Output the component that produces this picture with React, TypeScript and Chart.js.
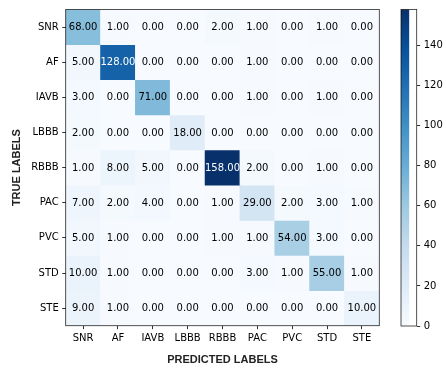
import React, { useEffect, useRef } from "react";
import { Chart, registerables } from "chart.js";

Chart.register(...registerables);

const predLabels = ["SNR", "AF", "IAVB", "LBBB", "RBBB", "PAC", "PVC", "STD", "STE"];
const trueLabels = ["SNR", "AF", "IAVB", "LBBB", "RBBB", "PAC", "PVC", "STD", "STE"];

const rowSNR = [68, 1, 0, 0, 2, 1, 0, 1, 0];
const rowAF = [5, 128, 0, 0, 0, 1, 0, 0, 0];
const rowIAVB = [3, 0, 71, 0, 0, 1, 0, 1, 0];
const rowLBBB = [2, 0, 0, 18, 0, 0, 0, 0, 0];
const rowRBBB = [1, 8, 5, 0, 158, 2, 0, 1, 0];
const rowPAC = [7, 2, 4, 0, 1, 29, 2, 3, 1];
const rowPVC = [5, 1, 0, 0, 1, 1, 54, 3, 0];
const rowSTD = [10, 1, 0, 0, 0, 3, 1, 55, 1];
const rowSTE = [9, 1, 0, 0, 0, 0, 0, 0, 10];

const matrix = [rowSNR, rowAF, rowIAVB, rowLBBB, rowRBBB, rowPAC, rowPVC, rowSTD, rowSTE];

const colorbarTicks = [0, 20, 40, 60, 80, 100, 120, 140];

const VMIN = 0;
const VMAX = Math.max(...matrix.map((r) => Math.max(...r)));

const BLUES = ["#f7fbff", "#deebf7", "#c6dbef", "#9ecae1", "#6baed6", "#4292c6", "#2171b5", "#08519c", "#08306b"];

function hexToRgb(h: string) {
  return [parseInt(h.slice(1, 3), 16), parseInt(h.slice(3, 5), 16), parseInt(h.slice(5, 7), 16)];
}

function blues(t: number) {
  const tt = Math.max(0, Math.min(1, t)) * (BLUES.length - 1);
  const i = Math.min(Math.floor(tt), BLUES.length - 2);
  const f = tt - i;
  const a = hexToRgb(BLUES[i]);
  const b = hexToRgb(BLUES[i + 1]);
  const c = a.map((v, k) => Math.round(v + (b[k] - v) * f));
  return `rgb(${c[0]},${c[1]},${c[2]})`;
}

const TICK_FONT = { family: "'DejaVu Sans'", size: 10 };
const TITLE_FONT = { family: "'Liberation Sans'", size: 11, weight: "bold" as const, lineHeight: 1 };

const frame = {
  id: "frame",
  afterDraw(chart: any) {
    const { ctx, chartArea: a } = chart;
    ctx.save();
    ctx.strokeStyle = "rgba(0,0,0,0.85)";
    ctx.lineWidth = 0.8;
    ctx.strokeRect(a.left, a.top, a.right - a.left, a.bottom - a.top);
    ctx.restore();
  },
};

const cellText = {
  id: "cellText",
  afterDatasetsDraw(chart: any) {
    const { ctx } = chart;
    const thresh = VMAX / 2;
    ctx.save();
    ctx.font = "10px 'DejaVu Sans'";
    ctx.textAlign = "center";
    ctx.textBaseline = "middle";
    matrix.forEach((row, r) => {
      const meta = chart.getDatasetMeta(r);
      meta.data.forEach((bar: any, c: number) => {
        const v = row[c];
        const cy = (bar.y + bar.base) / 2;
        ctx.fillStyle = v > thresh ? "#ffffff" : "#000000";
        ctx.fillText(v.toFixed(2), bar.x, cy + 0.5);
      });
    });
    ctx.restore();
  },
};

export default function App() {
  const mainRef = useRef<HTMLCanvasElement>(null);
  const cbRef = useRef<HTMLCanvasElement>(null);

  useEffect(() => {
    const padLeft = 11;
    const padBottom = 4;
    const plotLeft = 65.7;
    const plotRight = 379.3;
    const plotTop = 5.3;
    const plotBottom = 325.7;
    const W = 446;
    const H = 369;

    const main = new Chart(mainRef.current!, {
      type: "bar",
      data: {
        labels: predLabels,
        datasets: matrix.map((row, r) => ({
          label: trueLabels[r],
          data: row.map(() => [r, r + 1]) as any,
          backgroundColor: row.map((v) => blues((v - VMIN) / (VMAX - VMIN))),
          borderWidth: 0,
          barPercentage: 1,
          categoryPercentage: 1,
          grouped: false,
        })),
      },
      options: {
        responsive: false,
        animation: false,
        events: [],
        layout: { padding: { left: padLeft, right: W - plotRight, top: plotTop, bottom: padBottom } },
        plugins: { legend: { display: false }, tooltip: { enabled: false } },
        scales: {
          x: {
            type: "category",
            offset: true,
            grid: { display: true, offset: false, drawOnChartArea: false, drawTicks: true, tickLength: 3.5, tickWidth: 0.8, tickColor: "#000" },
            border: { display: false },
            ticks: { font: TICK_FONT, color: "#000", padding: 3.5, maxRotation: 0, autoSkip: false },
            title: { display: true, text: "PREDICTED LABELS", font: TITLE_FONT, color: "#222", padding: { top: 0, bottom: 0 } },
            afterFit: (s: any) => {
              s.height = H - padBottom - plotBottom;
            },
          },
          y: {
            type: "linear",
            min: 0,
            max: trueLabels.length,
            reverse: true,
            grid: { display: true, drawOnChartArea: false, drawTicks: true, tickLength: 3.5, tickWidth: 0.8, tickColor: "#000" },
            border: { display: false },
            afterBuildTicks: (s: any) => {
              s.ticks = trueLabels.map((_, i) => ({ value: i + 0.5 }));
            },
            ticks: {
              font: TICK_FONT,
              color: "#000",
              padding: 3.5,
              autoSkip: false,
              callback: (_v: any, i: number) => trueLabels[i],
            },
            title: { display: true, text: "TRUE LABELS", font: TITLE_FONT, color: "#222", padding: { top: 0, bottom: 0 } },
            afterFit: (s: any) => {
              s.width = plotLeft - padLeft;
            },
          },
        },
      },
      plugins: [cellText, frame],
    });

    const cbLeft = 401;
    const cbRight = 416.7;
    const cbTop = 5;
    const cbBottom = 326;

    const cb = new Chart(cbRef.current!, {
      type: "bar",
      data: {
        labels: [""],
        datasets: [
          {
            data: [[VMIN, VMAX]] as any,
            borderWidth: 0,
            barPercentage: 1,
            categoryPercentage: 1,
            backgroundColor: (ctx: any) => {
              const a = ctx.chart.chartArea;
              if (!a) return BLUES[4];
              const g = ctx.chart.ctx.createLinearGradient(0, a.bottom, 0, a.top);
              BLUES.forEach((c, i) => g.addColorStop(i / (BLUES.length - 1), c));
              return g;
            },
          },
        ],
      },
      options: {
        responsive: false,
        animation: false,
        events: [],
        layout: { padding: { left: cbLeft, right: 0, top: cbTop, bottom: H - cbBottom } },
        plugins: { legend: { display: false }, tooltip: { enabled: false } },
        scales: {
          x: { display: false, offset: false },
          y: {
            position: "right",
            min: VMIN,
            max: VMAX,
            grid: { display: true, drawOnChartArea: false, drawTicks: true, tickLength: 3.5, tickWidth: 0.8, tickColor: "#000" },
            border: { display: false },
            afterBuildTicks: (s: any) => {
              s.ticks = colorbarTicks.map((v) => ({ value: v }));
            },
            ticks: { font: TICK_FONT, color: "#000", padding: 3.5 },
            afterFit: (s: any) => {
              s.width = W - cbRight;
            },
          },
        },
      },
      plugins: [frame],
    });

    return () => {
      main.destroy();
      cb.destroy();
    };
  }, []);

  return (
    <div style={{ position: "absolute", left: 0, top: 0, width: 446, height: 369, background: "#fff" }}>
      <canvas ref={mainRef} width={446} height={369} style={{ position: "absolute", left: 0, top: 0 }} />
      <canvas ref={cbRef} width={446} height={369} style={{ position: "absolute", left: 0, top: 0 }} />
    </div>
  );
}
